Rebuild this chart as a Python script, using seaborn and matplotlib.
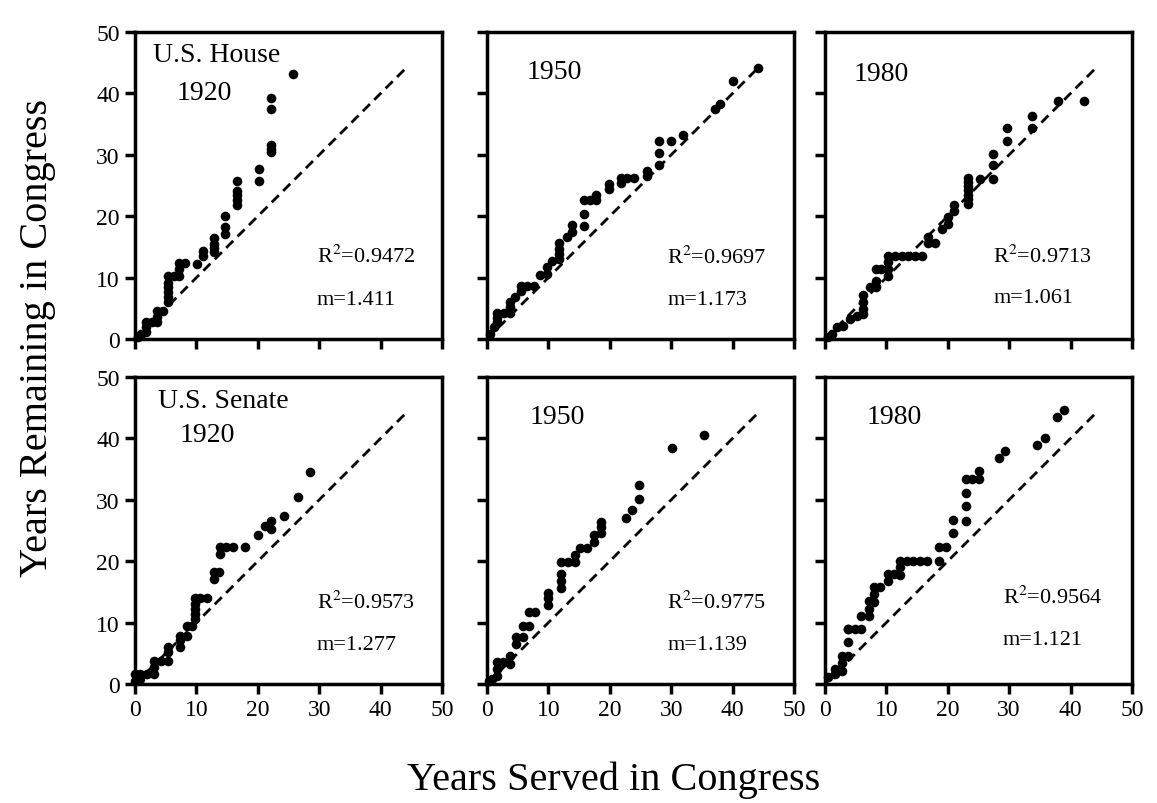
import seaborn as sns
import pandas as pd
from matplotlib import pyplot as plt

# years served (x) vs years remaining (y)
house_1920_x = [0.5, 1.0, 1.8, 1.8, 1.8, 2.7, 3.5, 3.5, 3.5, 4.5, 5.4, 5.4, 5.4, 5.4, 5.4, 5.4,
                6.4, 7.2, 7.2, 7.2, 8.2, 10.1, 11.0, 11.0, 12.9, 12.9, 12.9, 12.9, 14.7, 14.7,
                14.7, 16.6, 16.6, 16.6, 16.6, 16.6, 20.2, 20.2, 22.1, 22.1, 22.1, 22.1, 22.1, 25.7]
house_1920_y = [0.3, 0.8, 1.1, 1.9, 2.8, 2.8, 2.8, 3.6, 4.5, 4.5, 6.0, 6.8, 7.6, 8.4, 9.2, 10.3,
                10.3, 10.3, 11.4, 12.3, 12.3, 12.2, 13.5, 14.4, 14.1, 14.8, 15.5, 16.4, 17.1, 18.2,
                20.0, 21.8, 22.6, 23.4, 24.1, 25.7, 25.7, 27.7, 30.4, 31.0, 31.6, 37.4, 39.3, 43.2]

house_1950_x = [0.5, 1.1, 1.7, 1.7, 1.7, 2.7, 3.8, 3.8, 3.8, 4.6, 5.5, 5.5, 6.5, 7.6, 8.7, 9.7,
                9.7, 10.6, 11.7, 11.7, 11.7, 11.7, 13.0, 13.9, 13.9, 15.8, 15.8, 15.8, 16.8, 17.8,
                17.8, 19.8, 19.8, 21.8, 21.8, 22.8, 23.9, 26.1, 26.1, 28.0, 28.0, 28.0, 29.9, 32.0,
                37.1, 38.0, 40.1, 44.2]
house_1950_y = [0.8, 1.9, 2.7, 3.5, 4.3, 4.3, 4.3, 5.2, 6.0, 6.8, 7.9, 8.7, 8.7, 8.7, 10.5, 10.6,
                11.7, 12.7, 13.0, 13.9, 14.7, 15.7, 16.6, 17.4, 18.5, 18.4, 20.4, 22.6, 22.6, 22.6,
                23.5, 24.5, 25.3, 25.4, 26.2, 26.2, 26.2, 26.6, 27.4, 28.3, 30.3, 32.3, 32.2, 33.3,
                37.4, 38.2, 42.1, 44.1]

house_1980_x = [0.5, 1.1, 1.9, 3.0, 4.1, 5.2, 6.2, 6.2, 6.2, 6.2, 7.3, 8.3, 8.3, 8.3, 9.2, 10.3,
                10.3, 10.3, 10.3, 11.4, 12.5, 13.6, 14.7, 15.8, 16.8, 16.8, 17.9, 19.0, 20.1, 20.1,
                21.0, 21.0, 23.3, 23.3, 23.3, 23.3, 23.3, 23.3, 23.3, 25.3, 27.3, 27.3, 27.3, 29.6,
                29.6, 33.8, 33.8, 37.9, 42.2]
house_1980_y = [0.3, 0.8, 1.9, 2.2, 3.3, 3.8, 4.1, 4.9, 6.0, 7.1, 8.4, 8.4, 9.5, 11.4, 11.4, 10.3,
                11.4, 12.5, 13.6, 13.6, 13.6, 13.6, 13.6, 13.6, 15.6, 16.6, 15.6, 17.9, 18.8, 19.8,
                20.9, 21.8, 22.0, 22.8, 23.5, 24.2, 24.9, 25.5, 26.2, 26.1, 26.1, 28.3, 30.2, 32.3,
                34.4, 34.3, 36.4, 38.7, 38.7]

senate_1920_x = [0.0, 0.0, 0.8, 0.8, 1.9, 3.1, 3.1, 3.1, 4.2, 5.3, 5.3, 5.3, 7.4, 7.4, 7.4, 8.4,
                 8.4, 9.2, 9.7, 9.7, 9.7, 9.7, 9.7, 10.6, 11.7, 12.8, 12.8, 13.7, 13.9, 13.9, 14.9,
                 15.9, 17.9, 20.1, 21.1, 22.2, 22.2, 24.2, 26.5, 28.5]
senate_1920_y = [0.5, 1.6, 0.8, 1.6, 1.6, 1.6, 2.7, 3.8, 3.8, 3.8, 5.2, 6.0, 6.0, 7.1, 7.9, 7.9,
                 9.5, 9.5, 10.6, 11.4, 12.2, 13.0, 14.0, 14.0, 14.0, 17.1, 18.2, 18.2, 21.2, 22.3,
                 22.3, 22.3, 22.3, 24.3, 25.8, 25.3, 26.5, 27.3, 30.4, 34.6]

senate_1950_x = [0.3, 0.8, 1.6, 1.6, 1.6, 2.6, 3.8, 3.8, 4.7, 4.7, 5.8, 5.8, 6.9, 6.9, 7.9, 9.9,
                 9.9, 9.9, 12.1, 12.1, 12.1, 12.1, 13.2, 14.3, 14.3, 15.2, 16.3, 17.5, 17.5, 18.6,
                 18.6, 18.6, 22.7, 23.7, 24.8, 24.8, 30.2, 35.4]
senate_1950_y = [0.5, 0.8, 1.3, 2.4, 3.6, 3.6, 3.3, 4.6, 6.5, 7.6, 7.6, 9.5, 9.5, 11.7, 11.7, 12.9,
                 14.0, 14.9, 15.6, 16.7, 17.9, 19.8, 19.8, 19.8, 21.0, 22.1, 22.1, 23.1, 24.2, 24.6,
                 25.5, 26.4, 27.1, 28.3, 30.2, 32.4, 38.4, 40.6]

senate_1980_x = [0.5, 1.6, 1.6, 2.7, 2.7, 2.7, 3.8, 3.8, 3.8, 3.8, 4.9, 5.9, 5.9, 7.1, 7.1, 7.1,
                 8.0, 8.0, 8.0, 9.0, 10.2, 10.2, 11.3, 12.2, 12.2, 12.2, 13.3, 14.4, 15.5, 16.6,
                 18.6, 18.6, 19.7, 20.8, 20.8, 22.9, 22.9, 22.9, 22.9, 24.0, 25.1, 25.1, 28.3, 29.3,
                 34.6, 35.8, 37.8, 39.0]
senate_1980_y = [1.1, 1.6, 2.4, 2.2, 3.5, 4.6, 4.6, 6.8, 9.0, 9.0, 9.0, 9.0, 11.1, 11.0, 12.2, 13.6,
                 13.3, 14.7, 15.8, 15.8, 16.8, 17.9, 17.9, 17.8, 19.0, 20.1, 20.1, 20.1, 20.1, 20.1,
                 20.1, 22.3, 22.3, 24.6, 26.7, 26.6, 29.0, 31.1, 33.4, 33.4, 33.4, 34.7, 36.8, 37.9,
                 39.0, 40.1, 43.5, 44.6]

# fit statistics printed in each panel
r2_values = ["0.9472", "0.9697", "0.9713", "0.9573", "0.9775", "0.9564"]
slopes = ["1.411", "1.173", "1.061", "1.277", "1.139", "1.121"]
panel_titles = ["U.S. House", None, None, "U.S. Senate", None, None]
panel_years = ["1920", "1950", "1980", "1920", "1950", "1980"]
ref_line = [0, 44]
ticks = [0, 10, 20, 30, 40, 50]

panels = [
    (house_1920_x, house_1920_y), (house_1950_x, house_1950_y), (house_1980_x, house_1980_y),
    (senate_1920_x, senate_1920_y), (senate_1950_x, senate_1950_y), (senate_1980_x, senate_1980_y),
]

sns.set_theme(style="ticks")
plt.rcParams['font.family'] = ['Liberation Serif', 'DejaVu Serif']
plt.rcParams['mathtext.fontset'] = 'stix'
plt.rcParams['text.color'] = 'black'
plt.rcParams['xtick.color'] = 'black'
plt.rcParams['ytick.color'] = 'black'

fig = plt.figure(figsize=(11.57, 8.04), dpi=100)
fig.patch.set_facecolor('white')

lefts = [0.1167, 0.4209, 0.7130]
bottoms = [0.5771, 0.1480]
W, H = 0.2653, 0.3818

# (year x, year y, title x, title y, stats x, r2 y, m y)
text_pos = [
    (6.8, 40.2, 2.9, 46.4, 29.6, 13.5, 6.5),
    (6.4, 43.5, None, None, 29.4, 13.4, 6.5),
    (4.6, 43.2, None, None, 27.4, 13.5, 6.8),
    (7.3, 40.7, 3.7, 46.1, 29.6, 13.4, 6.5),
    (6.9, 43.6, None, None, 29.4, 13.4, 6.5),
    (6.8, 43.6, None, None, 29.0, 14.3, 7.3),
]

for i, (xs, ys) in enumerate(panels):
    row, col = divmod(i, 3)
    ax = fig.add_axes([lefts[col], bottoms[row], W, H])
    df = pd.DataFrame({"served": xs, "remaining": ys})
    sns.lineplot(x=ref_line, y=ref_line, ax=ax, color='black', lw=2.0,
                 linestyle=(0, (3.6, 2.2)), zorder=1)
    sns.scatterplot(data=df, x="served", y="remaining", ax=ax, color='black',
                    s=48, edgecolor='black', linewidth=0, zorder=2, clip_on=False)
    ax.set_xlim(0, 50)
    ax.set_ylim(0, 50)
    ax.set_xticks(ticks)
    ax.set_yticks(ticks)
    ax.set_xlabel('')
    ax.set_ylabel('')
    for sp in ax.spines.values():
        sp.set_visible(True)
        sp.set_linewidth(2.5)
        sp.set_color('black')
    ax.tick_params(direction='out', length=7, width=2.5, color='black',
                   labelsize=17, pad=4, labelcolor='black')
    if col != 0:
        ax.tick_params(labelleft=False)
    if row != 1:
        ax.tick_params(labelbottom=False)

    yx, yy, tx, ty, sx, ry, my = text_pos[i]
    if panel_titles[i]:
        ax.text(tx, ty, panel_titles[i], fontsize=20, va='center', ha='left')
    ax.text(yx, yy, panel_years[i], fontsize=20, va='center', ha='left')
    ax.text(sx, ry, "R$^2$=" + r2_values[i], fontsize=16, va='center', ha='left')
    ax.text(sx, my, "m=" + slopes[i], fontsize=16, va='center', ha='left')

fig.text(0.530, 0.030, "Years Served in Congress", fontsize=29, ha='center', va='center')
fig.text(0.032, 0.58, "Years Remaining in Congress", fontsize=29, ha='center',
         va='center', rotation=90)

plt.savefig('out.png', dpi=100)
